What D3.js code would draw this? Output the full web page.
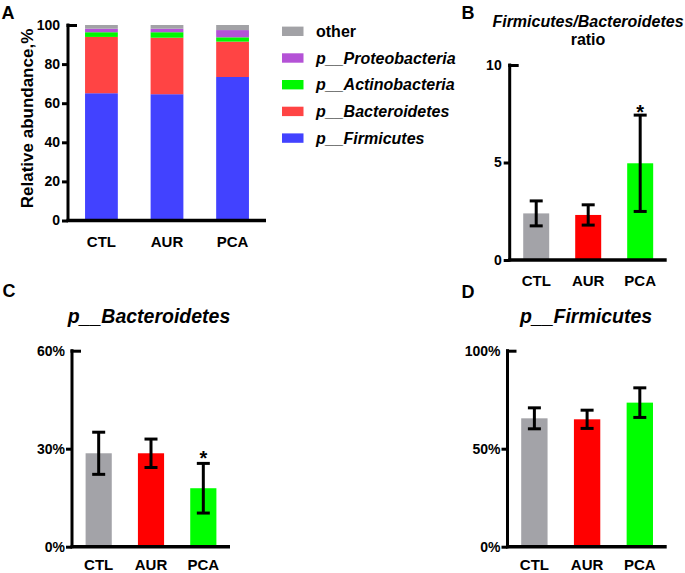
<!DOCTYPE html>
<html>
<head>
<meta charset="utf-8">
<script src="https://cdn.jsdelivr.net/npm/d3@7"></script>
<style>
  html, body { margin: 0; padding: 0; background: #fff; }
  svg { display: block; }
  text { font-family: "Liberation Sans", Arial, sans-serif; font-weight: bold; fill: #000; }
</style>
</head>
<body>
<svg id="chart" width="685" height="573"></svg>
<script>
// ---------- DATA ----------
const groups = ["CTL", "AUR", "PCA"];

// Panel A: stacked relative abundance (%)
const phyla = ["p__Firmicutes", "p__Bacteroidetes", "p__Actinobacteria", "p__Proteobacteria", "other"];
const firmicutesAbund = [65.1, 64.6, 73.4];
const bacteroidetesAbund = [28.8, 28.9, 18.1];
const actinobacteriaAbund = [2.4, 2.8, 2.2];
const proteobacteriaAbund = [1.8, 1.8, 3.7];
const otherAbund = [1.9, 1.9, 2.6];
const stackTicks = [0, 20, 40, 60, 80, 100];

// Panel B: Firmicutes/Bacteroidetes ratio
const ratioMean = [2.39, 2.31, 4.96];
const ratioSd = [0.64, 0.52, 2.47];
const ratioTicks = [0, 5, 10];
const ratioSig = ["", "", "*"];

// Panel C: p__Bacteroidetes (%)
const bactMean = [28.6, 28.6, 17.9];
const bactSd = [6.45, 4.35, 7.6];
const bactTicks = [0, 30, 60];
const bactSig = ["", "", "*"];

// Panel D: p__Firmicutes (%)
const firmMean = [65.5, 65.0, 73.5];
const firmSd = [5.35, 4.65, 7.55];
const firmTicks = [0, 50, 100];
const firmSig = ["", "", ""];

// ---------- STYLE ----------
const stackColors = {
  "p__Firmicutes": "#4242ff",
  "p__Bacteroidetes": "#ff4444",
  "p__Actinobacteria": "#00f800",
  "p__Proteobacteria": "#b452d6",
  "other": "#a2a2a6"
};
const groupColors = ["#a3a3a8", "#ff0000", "#00ff00"];

const svg = d3.select("#chart");

function drawAxes(g, x, y, ticks, fmt, axisX, xEnd, y0, yTop, tickPad, xPad) {
  // y axis
  const ya = d3.axisLeft(y).tickValues(ticks).tickSize(6).tickPadding(tickPad).tickSizeOuter(0).tickFormat(fmt);
  const yg = g.append("g").attr("transform", `translate(${axisX},0)`).call(ya);
  yg.select(".domain").remove();
  yg.selectAll(".tick line").attr("stroke", "#000").attr("stroke-width", 3);
  yg.selectAll(".tick text").style("font-size", "14px").style("font-weight", "bold")
    .style("font-family", '"Liberation Sans", Arial, sans-serif').attr("fill", "#000");
  // top tick points inward
  const maxV = d3.max(ticks);
  yg.selectAll(".tick").filter(d => d === maxV).select("line").attr("x1", -1.5).attr("x2", 9);
  g.append("line").attr("x1", axisX).attr("x2", axisX).attr("y1", y0 + 1.5).attr("y2", yTop - 1.5)
    .attr("stroke", "#000").attr("stroke-width", 3);
  // x axis
  g.append("line").attr("x1", axisX - 1.5).attr("x2", xEnd).attr("y1", y0).attr("y2", y0)
    .attr("stroke", "#000").attr("stroke-width", 3.5);
  const xa = d3.axisBottom(x).tickSize(0).tickPadding(xPad);
  const xg = g.append("g").attr("transform", `translate(0,${y0})`).call(xa);
  xg.select(".domain").remove();
  xg.selectAll(".tick text").style("font-size", "15px").style("font-weight", "bold")
    .style("font-family", '"Liberation Sans", Arial, sans-serif').attr("fill", "#000");
}

// ---------- PANEL A ----------
(function () {
  const axisX = 68, xEnd = 266, y0 = 220.5, yTop = 25;
  const g = svg.append("g");
  const x = d3.scaleBand().domain(groups).range([axisX, xEnd]).paddingInner(0.5).paddingOuter(0.26);
  const y = d3.scaleLinear().domain([0, 100]).range([y0, yTop]);
  const rows = groups.map((grp, i) => ({
    group: grp,
    "p__Firmicutes": firmicutesAbund[i],
    "p__Bacteroidetes": bacteroidetesAbund[i],
    "p__Actinobacteria": actinobacteriaAbund[i],
    "p__Proteobacteria": proteobacteriaAbund[i],
    "other": otherAbund[i]
  }));
  const series = d3.stack().keys(phyla)(rows);
  g.selectAll("g.layer").data(series).join("g").attr("class", "layer")
    .attr("fill", d => stackColors[d.key])
    .selectAll("rect").data(d => d).join("rect")
    .attr("x", d => x(d.data.group))
    .attr("width", x.bandwidth())
    .attr("y", d => y(d[1]))
    .attr("height", d => y(d[0]) - y(d[1]));
  drawAxes(g, x, y, stackTicks, d3.format("d"), axisX, xEnd, y0, yTop, 2, 15.5);
  svg.append("text").attr("transform", "translate(32.5,118.5) rotate(-90)")
    .attr("text-anchor", "middle").style("font-size", "17px").text("Relative abundance,%");

  // legend
  const legendOrder = phyla.slice().reverse();
  const lg = svg.append("g");
  legendOrder.forEach((k, i) => {
    const cy = 31.3 + i * 26.7;
    lg.append("rect").attr("x", 282).attr("y", cy - 4.7).attr("width", 21.5).attr("height", 9.4)
      .attr("fill", stackColors[k]);
    lg.append("text").attr("x", 316).attr("y", cy + 5.6).style("font-size", "16px")
      .style("font-style", k === "other" ? "normal" : "italic").text(k);
  });
})();

// ---------- SIMPLE BAR PANELS ----------
function barPanel(opts) {
  const { axisX, xEnd, y0, yTop, domainMax, ticks, fmt, mean, sd, sig, tickPad, xPad, sigOff } = opts;
  const g = svg.append("g");
  const x = d3.scaleBand().domain(groups).range([axisX, xEnd]).paddingInner(0.5).paddingOuter(0.26);
  const y = d3.scaleLinear().domain([0, domainMax]).range([y0, yTop]);
  const data = groups.map((grp, i) => ({ group: grp, m: mean[i], s: sd[i], sig: sig[i], c: groupColors[i] }));
  g.selectAll("rect.bar").data(data).join("rect").attr("class", "bar")
    .attr("x", d => x(d.group)).attr("width", x.bandwidth())
    .attr("y", d => y(d.m)).attr("height", d => y(0) - y(d.m)).attr("fill", d => d.c);
  const cx = d => x(d.group) + x.bandwidth() / 2;
  const eb = g.selectAll("g.eb").data(data).join("g").attr("class", "eb")
    .attr("stroke", "#000").attr("stroke-width", 3);
  eb.append("line").attr("x1", cx).attr("x2", cx).attr("y1", d => y(d.m - d.s)).attr("y2", d => y(d.m + d.s));
  eb.append("line").attr("x1", d => cx(d) - 6.5).attr("x2", d => cx(d) + 6.5)
    .attr("y1", d => y(d.m + d.s)).attr("y2", d => y(d.m + d.s));
  eb.append("line").attr("x1", d => cx(d) - 6.5).attr("x2", d => cx(d) + 6.5)
    .attr("y1", d => y(d.m - d.s)).attr("y2", d => y(d.m - d.s));
  g.selectAll("text.sig").data(data.filter(d => d.sig)).join("text").attr("class", "sig")
    .attr("x", cx).attr("y", d => y(d.m + d.s) + sigOff)
    .attr("text-anchor", "middle").style("font-size", "20px").text(d => d.sig);
  drawAxes(g, x, y, ticks, fmt, axisX, xEnd, y0, yTop, tickPad, xPad);
  return g;
}

// Panel B
barPanel({ axisX: 509.7, xEnd: 666.7, y0: 260, yTop: 65, domainMax: 10, ticks: ratioTicks,
  fmt: d3.format("d"), mean: ratioMean, sd: ratioSd, sig: ratioSig, tickPad: 2, xPad: 15, sigOff: 4 });
svg.append("text").attr("x", 588).attr("y", 26.7).attr("text-anchor", "middle")
  .style("font-size", "16px").style("font-style", "italic").text("Firmicutes/Bacteroidetes");
svg.append("text").attr("x", 588).attr("y", 45).attr("text-anchor", "middle")
  .style("font-size", "16px").text("ratio");

// Panel C
barPanel({ axisX: 72, xEnd: 230, y0: 546.7, yTop: 350.7, domainMax: 60, ticks: bactTicks,
  fmt: d => d + "%", mean: bactMean, sd: bactSd, sig: bactSig, tickPad: 1, xPad: 13, sigOff: 1.5 });
svg.append("text").attr("x", 149).attr("y", 323.3).attr("text-anchor", "middle")
  .style("font-size", "19.5px").style("font-style", "italic").text("p__Bacteroidetes");

// Panel D
barPanel({ axisX: 507.5, xEnd: 666.7, y0: 546.7, yTop: 350.7, domainMax: 100, ticks: firmTicks,
  fmt: d => d + "%", mean: firmMean, sd: firmSd, sig: firmSig, tickPad: 1, xPad: 13, sigOff: 1.5 });
svg.append("text").attr("x", 586).attr("y", 323.3).attr("text-anchor", "middle")
  .style("font-size", "19.5px").style("font-style", "italic").text("p__Firmicutes");

// Panel letters
const letters = [["A", 1.5, 18.5], ["B", 461.5, 18.5], ["C", 2.5, 296.7], ["D", 461.5, 298]];
letters.forEach(([t, lx, ly]) => {
  svg.append("text").attr("x", lx).attr("y", ly).style("font-size", "18px").text(t);
});
</script>
</body>
</html>
